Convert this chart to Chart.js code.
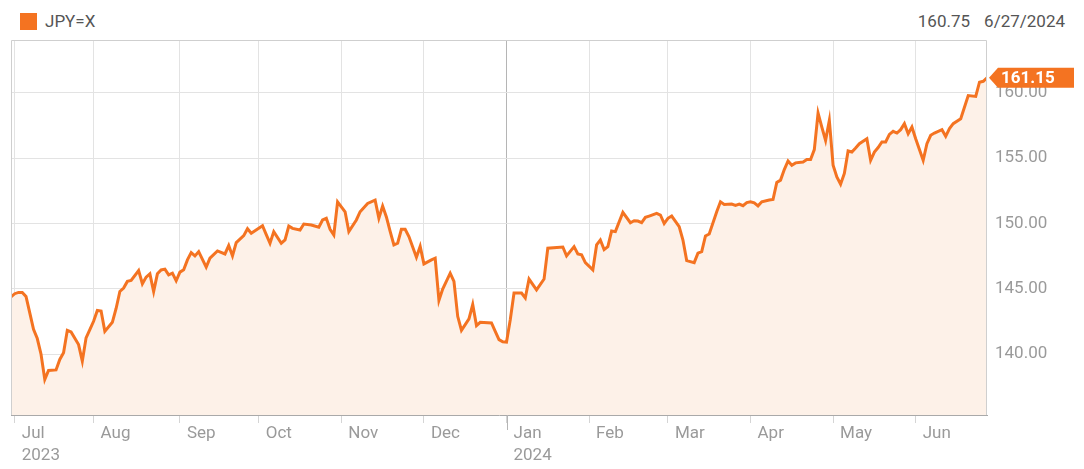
<!DOCTYPE html>
<html>
<head>
<meta charset="utf-8">
<script src="https://cdn.jsdelivr.net/npm/chart.js@4.4.1/dist/chart.umd.min.js"></script>
<style>
  html, body { margin: 0; padding: 0; background: #fff; }
  body { width: 1084px; height: 469px; position: relative; overflow: hidden; font-family: Roboto, sans-serif; }
  canvas { position: absolute; left: 0; top: 0; }
  .head { position: absolute; top: 12px; font-size: 17px; line-height: 18px; color: #555; }
  #swatch { position: absolute; left: 20px; top: 13px; width: 17px; height: 17px; background: #f47321; }
  #symbol { left: 45px; }
  #quote { right: 19px; }
  #quote span + span { margin-left: 14px; }
</style>
</head>
<body>
<div id="swatch"></div>
<div class="head" id="symbol"></div>
<div class="head" id="quote"><span id="last"></span><span id="date"></span></div>
<canvas id="fx" width="1084" height="469"></canvas>
<script>
const symbol = "JPY=X";
const lastClose = 160.75;
const lastDate = "6/27/2024";
const liveRate = 161.15;

// trading-day number (0 = 30 Jun 2023) and USD/JPY rate
const session = [
  0, 1, 2, 3, 4, 5, 6, 7, 8, 9, 10, 12, 13, 14, 15, 16, 18, 19, 20, 21,
  22, 23, 24, 25, 27, 28, 29, 30, 31, 32, 34, 35, 36, 37, 38, 39, 40, 41, 42, 43,
  44, 45, 46, 47, 48, 49, 50, 52, 53, 55, 57, 58, 59, 60, 62, 63, 64, 67, 68, 69,
  70, 72, 73, 74, 75, 77, 78, 80, 82, 83, 84, 85, 86, 87, 89, 90, 92, 93, 95, 97,
  98, 99, 100, 101, 102, 103, 104, 105, 106, 108, 109, 110, 112, 113, 114, 115, 117, 118, 119, 120,
  121, 122, 123, 124, 125, 128, 129, 130, 131, 132, 133, 134, 136, 137, 138, 140, 142, 143, 147, 148,
  150, 151, 152, 153, 155, 156, 157, 158, 159, 160, 161, 163, 165, 166, 167, 168, 169, 170, 172, 173,
  174, 175, 176, 178, 179, 180, 182, 183, 184, 185, 186, 188, 189, 190, 192, 193, 194, 195, 196, 197,
  198, 199, 200, 202, 203, 204, 205, 206, 207, 208, 209, 211, 212, 213, 214, 215, 216, 217, 218, 219,
  220, 221, 222, 223, 224, 225, 226, 228, 229, 230, 231, 232, 233, 234, 235, 236, 237, 238, 239, 240,
  241, 243, 244, 245, 246, 248, 249, 250, 251, 253, 255, 257, 258, 259, 260
];
const rate = [
  144.38, 144.63, 144.73, 144.73, 144.42, 143.16, 141.9, 141.2, 140.0, 138.07, 138.76, 138.8, 139.6, 140.11, 141.83, 141.7, 140.74, 139.47, 141.25, 141.88,
  142.52, 143.35, 143.3, 141.75, 142.44, 143.5, 144.8, 145.06, 145.57, 145.64, 146.4, 145.39, 145.9, 146.15, 144.8, 146.15, 146.45, 146.51, 146.07, 146.2,
  145.62, 146.28, 146.46, 147.22, 147.77, 147.52, 147.85, 146.66, 147.35, 147.9, 147.67, 148.31, 147.52, 148.54, 149.07, 149.6, 149.25, 149.83, 149.15, 148.49,
  149.38, 148.49, 148.74, 149.81, 149.63, 149.5, 149.96, 149.89, 149.71, 150.27, 150.4, 149.56, 149.12, 151.66, 150.9, 149.38, 150.27, 150.9, 151.54, 151.79,
  150.4, 151.33, 150.5, 149.4, 148.36, 148.49, 149.56, 149.56, 149.0, 147.42, 148.25, 146.91, 147.22, 147.35, 144.12, 144.99, 146.2, 145.57, 142.9, 141.83,
  142.26, 142.7, 143.8, 142.19, 142.44, 142.39, 141.75, 141.12, 140.95, 140.92, 142.64, 144.68, 144.68, 144.3, 145.75, 144.93, 145.75, 148.11, 148.2, 147.52,
  148.23, 147.67, 147.6, 147.01, 146.45, 148.36, 148.74, 148.0, 148.23, 149.43, 149.38, 150.85, 150.06, 150.21, 150.19, 150.06, 150.47, 150.57, 150.78, 150.65,
  150.0, 150.4, 150.57, 149.76, 148.74, 147.16, 147.01, 147.73, 147.85, 149.05, 149.2, 150.9, 151.66, 151.46, 151.49, 151.39, 151.49, 151.36, 151.6, 151.66,
  151.58, 151.35, 151.66, 151.8, 151.84, 153.15, 153.32, 154.13, 154.79, 154.46, 154.64, 154.71, 154.89, 154.89, 155.66, 158.45, 157.38, 156.36, 157.89, 154.46,
  153.57, 153.01, 153.83, 155.55, 155.47, 155.78, 156.11, 156.49, 154.84, 155.47, 155.81, 156.24, 156.24, 156.82, 157.05, 156.92, 157.18, 157.64, 156.87, 157.38,
  156.49, 154.84, 156.11, 156.75, 156.92, 157.18, 156.67, 157.26, 157.64, 158.02, 159.79, 159.72, 160.81, 160.88, 161.15
];

const monthStart = [1, 22, 45, 66, 88, 110, 132, 154, 175, 197, 219, 241];
const monthNames = ["Jul", "Aug", "Sep", "Oct", "Nov", "Dec", "Jan", "Feb", "Mar", "Apr", "May", "Jun"];
const yearNames = ["2023", "", "", "", "", "", "2024", "", "", "", "", ""];
const rateTicks = [140, 145, 150, 155, 160];

const ORANGE = "#f47321";

document.getElementById("symbol").textContent = symbol;
document.getElementById("last").textContent = lastClose.toFixed(2);
document.getElementById("date").textContent = lastDate;

const isYearStart = (v) => yearNames[monthStart.indexOf(v)] !== "" && v !== monthStart[0];

// plot frame, the longer tick under January and the live-rate tag
const extras = {
  id: "extras",
  afterDatasetsDraw(chart) {
    const { ctx, chartArea: a } = chart;
    ctx.save();
    ctx.strokeStyle = "#cfcfcf";
    ctx.lineWidth = 1;
    ctx.beginPath();
    ctx.moveTo(a.left + 0.5, a.bottom);
    ctx.lineTo(a.left + 0.5, a.top + 0.5);
    ctx.lineTo(a.right - 0.5, a.top + 0.5);
    ctx.lineTo(a.right - 0.5, a.bottom);
    ctx.stroke();
    ctx.restore();
  },
  afterDraw(chart) {
    const { ctx, chartArea: a, scales } = chart;
    ctx.save();
    const jan = monthStart.find(isYearStart);
    const jx = Math.round(scales.x.getPixelForValue(jan)) + 0.5;
    ctx.strokeStyle = "#b5b5b5";
    ctx.lineWidth = 1;
    ctx.beginPath();
    ctx.moveTo(jx, a.bottom);
    ctx.lineTo(jx, a.bottom + 15);
    ctx.stroke();

    const y = scales.y.getPixelForValue(liveRate);
    const x0 = a.right + 2;
    ctx.fillStyle = ORANGE;
    ctx.beginPath();
    ctx.moveTo(x0, y);
    ctx.lineTo(x0 + 9, y - 10);
    ctx.lineTo(1074, y - 10);
    ctx.lineTo(1074, y + 10);
    ctx.lineTo(x0 + 9, y + 10);
    ctx.closePath();
    ctx.fill();
    ctx.fillStyle = "#fff";
    ctx.font = "bold 17px Roboto";
    ctx.textBaseline = "middle";
    ctx.fillText(liveRate.toFixed(2), x0 + 12, y + 1);
    ctx.restore();
  }
};

new Chart(document.getElementById("fx"), {
  type: "line",
  data: {
    datasets: [{
      label: symbol,
      data: session.map((d, i) => ({ x: d, y: rate[i] })),
      borderColor: ORANGE,
      borderWidth: 3,
      backgroundColor: "#fdf1e8",
      fill: "start",
      pointRadius: 0,
      tension: 0
    }]
  },
  options: {
    responsive: false,
    animation: false,
    layout: { padding: { left: 11, top: 40, right: 0, bottom: 0 } },
    plugins: { legend: { display: false }, tooltip: { enabled: false } },
    scales: {
      x: {
        type: "linear",
        min: 0,
        max: 260,
        afterBuildTicks: (s) => { s.ticks = monthStart.map((v) => ({ value: v })); },
        afterFit: (s) => { s.height = 54; },
        ticks: {
          autoSkip: false,
          maxRotation: 0,
          align: "start",
          labelOffset: 7,
          padding: 0,
          color: "#9a9a9a",
          font: { family: "Roboto", size: 17, lineHeight: 1.3 },
          callback: (v, i) => yearNames[i] ? [monthNames[i], yearNames[i]] : monthNames[i]
        },
        grid: {
          color: (c) => c.tick && isYearStart(c.tick.value) ? "#b5b5b5" : "#e3e3e3",
          tickColor: "#d5d5d5",
          tickLength: 8
        },
        border: { color: "#a9a9a9" }
      },
      y: {
        position: "right",
        min: 135.35,
        max: 164.04,
        afterBuildTicks: (s) => { s.ticks = rateTicks.map((v) => ({ value: v })); },
        afterFit: (s) => { s.width = 97; },
        ticks: {
          padding: 8,
          color: "#9a9a9a",
          font: { family: "Roboto", size: 17 },
          callback: (v) => v.toFixed(2)
        },
        grid: { color: "#e3e3e3", drawTicks: false },
        border: { display: false }
      }
    }
  },
  plugins: [extras]
});
</script>
</body>
</html>
